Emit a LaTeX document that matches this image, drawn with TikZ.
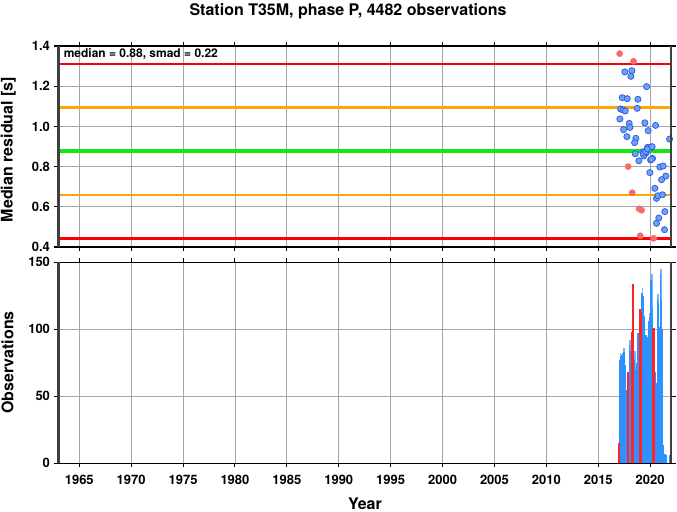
\documentclass[tikz,border=0pt]{standalone}
\usepackage{fontspec}
\setmainfont{TeX Gyre Heros}
\usepackage{xcolor}
\usepackage{tikz}
\usetikzlibrary{positioning}

\definecolor{smadred}{RGB}{255,0,0}
\definecolor{smadorange}{RGB}{255,165,0}
\definecolor{mediangreen}{RGB}{20,230,20}
\definecolor{dotblue}{RGB}{110,162,245}
\definecolor{dotblueedge}{RGB}{45,95,230}
\definecolor{dotred}{RGB}{250,105,105}
\definecolor{barblue}{RGB}{45,145,255}
\definecolor{barlight}{RGB}{120,180,255}
\definecolor{barred}{RGB}{255,35,35}

\begin{document}
\begin{tikzpicture}[
            x=0.75pt, y=-0.75pt,
            gridline/.style={black!35, line width=0.6pt},
            sideline/.style={black!75, line width=1.6pt},
            capline/.style={black, line width=1.2pt},
            tickmark/.style={black, line width=0.8pt},
            xticklabel/.style={anchor=north, yshift=-8.6pt, inner sep=0pt, font=\fontsize{9.75}{11}\selectfont\bfseries},
            yticklabel/.style={anchor=east, xshift=-6.2pt, inner sep=0pt, font=\fontsize{9.75}{11}\selectfont\bfseries},
            axislabel/.style={anchor=base, inner sep=0pt, font=\fontsize{12}{14}\selectfont\bfseries},
            note/.style={anchor=base west, inner sep=0pt, font=\fontsize{9}{11}\selectfont\bfseries},
            redline/.style={smadred, line width=1.8pt},
            orangeline/.style={smadorange, line width=1.8pt},
            greenline/.style={mediangreen, line width=2.5pt},
            bluedot/.style={fill=dotblue, draw=dotblueedge, line width=0.6pt},
            reddot/.style={fill=dotred, draw=dotred, line width=0.4pt},
            obsbar/.style={fill=barblue},
            lightbar/.style={fill=barlight},
            redbar/.style={fill=barred}
        ]

        \useasboundingbox (0,0) rectangle (677,511);

        % Title
        \node[axislabel] (title) at (348,15) {Station T35M, phase P, 4482 observations};

        % Top panel: median residual
        \begin{scope}[shift={(58.5,327.4)}, x=7.785pt, y=150.75pt]
            \foreach \yr in {1965,1970,...,2020}
                \draw[gridline] (\yr-1963,0.4) -- (\yr-1963,1.4);
            \foreach \v in {0.6,0.8,1.0,1.2}
                \draw[gridline] (0,\v) -- (59,\v);

            \draw[redline] (0,1.311) -- (59,1.311);
            \draw[orangeline] (0,1.094) -- (59,1.094);
            \draw[greenline] (0,0.877) -- (59,0.877);
            \draw[orangeline] (0,0.660) -- (59,0.660);
            \draw[redline] (0,0.443) -- (59,0.443);

            \foreach \t/\v in {2017.06/1.362, 2018.40/1.324, 2017.88/0.80, 2018.27/0.67,
                               2018.94/0.59, 2019.17/0.583, 2019.04/0.456, 2020.33/0.443}
                \filldraw[reddot] (\t-1963,\v) circle[radius=2.3pt];
            \foreach \t/\v in {2017.56/1.271, 2018.24/1.277, 2018.14/1.249, 2019.65/1.198,
                               2017.31/1.143, 2017.79/1.138, 2018.82/1.135, 2017.15/1.087,
                               2017.37/1.082, 2017.60/1.077, 2018.75/1.090, 2017.08/1.037,
                               2017.98/1.015, 2018.05/0.995, 2017.44/0.984, 2019.49/1.018,
                               2020.52/1.005, 2019.81/0.979, 2017.76/0.949, 2018.62/0.941,
                               2018.50/0.919, 2021.87/0.937, 2019.75/0.896, 2020.13/0.896,
                               2019.30/0.874, 2019.62/0.869, 2018.56/0.864, 2019.39/0.853,
                               2020.23/0.841, 2020.04/0.833, 2018.91/0.829, 2020.93/0.798,
                               2021.25/0.803, 2021.51/0.753, 2021.10/0.735, 2019.97/0.770,
                               2020.45/0.692, 2020.61/0.642, 2020.74/0.655, 2021.19/0.660,
                               2021.41/0.576, 2020.83/0.544, 2020.61/0.518, 2021.38/0.486,
                               2019.33/0.866, 2019.56/0.874, 2019.75/0.888, 2020.19/0.899,
                               2020.13/0.836}
                \filldraw[bluedot] (\t-1963,\v) circle[radius=2.3pt];

            % frame and ticks
            \foreach \v [count=\i] in {0.4,0.6,0.8,1.0,1.2,1.4} {
                \draw[tickmark] (0,\v) -- ++(-3.75pt,0pt);
                \draw[tickmark] (59,\v) -- ++(3.75pt,0pt);
                \node[yticklabel] (rl\i) at (0,\v) {\v};
            }
            \foreach \yr in {1965,1970,...,2020} {
                \draw[tickmark] (\yr-1963,0.4) -- ++(0pt,-3pt);
                \draw[tickmark] (\yr-1963,1.4) -- ++(0pt,3pt);
            }
            \draw[capline] (0,0.4) -- (59,0.4);
            \draw[capline] (0,1.4) -- (59,1.4);
            \draw[sideline] (0,0.4) -- (0,1.4);
            \draw[sideline] (59,0.4) -- (59,1.4);
        \end{scope}

        % Bottom panel: observations
        \begin{scope}[shift={(58.5,463.3)}, x=7.785pt, y=1.005pt]
            \foreach \yr in {1965,1970,...,2020}
                \draw[gridline] (\yr-1963,0) -- (\yr-1963,150);
            \foreach \n in {50,100}
                \draw[gridline] (0,\n) -- (59,\n);

            \foreach \t/\n in {2017.15/82, 2017.45/86, 2018.05/92, 2018.55/84, 2019.25/131,
                               2019.95/112, 2020.15/141, 2020.75/126, 2021.05/145}
                \fill[lightbar] (\t-1963-0.08,0) rectangle (\t-1963+0.08,\n);
            \foreach \t/\n in {2017.1/77, 2017.2/80, 2017.3/81, 2017.4/82, 2017.5/83,
                               2017.6/73, 2017.7/55, 2017.8/52, 2017.9/60, 2018.0/88,
                               2018.1/84, 2018.2/79, 2018.3/80, 2018.4/75, 2018.5/78,
                               2018.6/70, 2018.7/75, 2018.8/97, 2018.9/85, 2019.0/100,
                               2019.1/105, 2019.2/127, 2019.3/125, 2019.4/110, 2019.5/87,
                               2019.6/96, 2019.7/94, 2019.8/92, 2019.9/106, 2020.0/109,
                               2020.1/137, 2020.2/115, 2020.3/95, 2020.4/83, 2020.5/68,
                               2020.6/60, 2020.7/122, 2020.8/120, 2020.9/102, 2021.0/141,
                               2021.1/122, 2021.2/100, 2021.3/14, 2021.4/7, 2021.5/6,
                               2021.85/6}
                \fill[obsbar] (\t-1963-0.08,0) rectangle (\t-1963+0.08,\n);
            \foreach \t/\n in {2017.0/15, 2017.88/68, 2018.25/98, 2018.38/134,
                               2019.02/115, 2019.12/113, 2020.32/101}
                \fill[redbar] (\t-1963-0.1,0) rectangle (\t-1963+0.1,\n);

            % frame and ticks
            \foreach \n in {0,50,100,150} {
                \draw[tickmark] (0,\n) -- ++(-3.75pt,0pt);
                \draw[tickmark] (59,\n) -- ++(3.75pt,0pt);
                \node[yticklabel] (ol\n) at (0,\n) {\n};
            }
            \foreach \yr in {1965,1970,...,2020} {
                \draw[tickmark] (\yr-1963,0) -- ++(0pt,-3pt);
                \draw[tickmark] (\yr-1963,150) -- ++(0pt,3pt);
                \node[xticklabel] (yl\yr) at (\yr-1963,0) {\yr};
            }
            \draw[capline] (0,0) -- (59,0);
            \draw[capline] (0,150) -- (59,150);
            \draw[sideline] (0,0) -- (0,150);
            \draw[sideline] (59,0) -- (59,150);
        \end{scope}

        % Labels
        \node[note] (stats) at (63.5,57) {median = 0.88, smad = 0.22};
        \node[axislabel, rotate=90] (ylabtop) at (12.7,149.5) {Median residual [s]};
        \node[axislabel, rotate=90] (ylabbot) at (13.3,362.5) {Observations};
        \node[axislabel] (xlab) at (365,509.3) {Year};

    \end{tikzpicture}
\end{document}
